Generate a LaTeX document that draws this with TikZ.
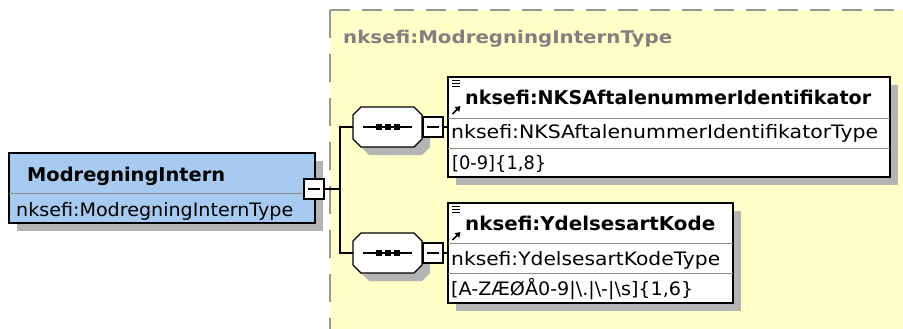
\documentclass[tikz,border=0pt]{standalone}
\usepackage{fontspec}
\setmainfont{DejaVu Sans}
\usepackage{graphicx}
\usetikzlibrary{arrows.meta,shadows}
\definecolor{ylw}{RGB}{255,255,200}
\definecolor{blu}{RGB}{166,202,240}
\definecolor{shd}{RGB}{180,180,180}
\definecolor{dgray}{RGB}{150,150,150}
\definecolor{tgray}{RGB}{128,128,128}
\definecolor{divc}{RGB}{140,140,140}
\newcommand{\fitw}[2]{\resizebox{#1}{\height}{#2}}
\newcommand{\octpath}[1]{([xshift=8pt]#1.north west) -- ([xshift=-8pt]#1.north east) -- ([yshift=-8pt]#1.north east) -- ([yshift=8pt]#1.south east) -- ([xshift=-8pt]#1.south east) -- ([xshift=8pt]#1.south west) -- ([yshift=8pt]#1.south west) -- ([yshift=-8pt]#1.north west) -- cycle}
\begin{document}
\begin{tikzpicture}[x=1pt,y=-1pt,
  box/.style={draw=black, line width=1.5pt, inner sep=0pt, outer sep=0pt, anchor=north west,
    drop shadow={shadow xshift=8pt, shadow yshift=-8pt, fill=shd, opacity=1}},
  divider/.style={draw=divc, line width=1pt},
  minusbox/.style={draw=black, fill=white, line width=1.3pt, minimum size=20pt, inner sep=0pt, outer sep=0pt,
    path picture={\draw[line width=1.3pt] ([xshift=-6pt]path picture bounding box.center) -- ([xshift=6pt]path picture bounding box.center);}},
  seqhold/.style={minimum width=69pt, minimum height=40pt, inner sep=0pt, outer sep=0pt},
  octo/.style={draw=black, fill=white, line width=1.3pt},
  conn/.style={draw=black, line width=1.3pt},
  t/.style={inner sep=0pt, anchor=base west, font=\fontsize{18.5}{20}\selectfont},
  tb/.style={inner sep=0pt, anchor=base west, font=\fontsize{19}{21}\selectfont\bfseries},
  icon/.style={line width=1.2pt}
]
\useasboundingbox (0,0) rectangle (903,329);
\clip (0,0) rectangle (903,329);
% yellow group area
\fill[ylw] (330,10) rectangle (920,340);
\draw[dgray, line width=2pt, dash pattern=on 20pt off 12pt] (330,10) -- (920,10);
\draw[dgray, line width=2pt, dash pattern=on 28pt off 16pt] (330,10) -- (330,340);
\node[tb, text=tgray, font=\fontsize{17.5}{20}\selectfont\bfseries] (grp) at (343,44) {\fitw{329pt}{nksefi:ModregningInternType}};

% main element
\node[box, fill=blu, minimum width=306pt, minimum height=70pt] (main) at (9,153) {};
\draw[divider] (main.west |- 0,193) -- (main.east |- 0,193);
\node[tb] (mt) at (27,181) {\fitw{198pt}{ModregningIntern}};
\node[t] (mty) at (16,216) {\fitw{277pt}{nksefi:ModregningInternType}};
\node[minusbox] (mm) at (314,189) {};

% sequence compositors
\node[seqhold] (s1) at (387.5,127) {};
\node[seqhold] (s2) at (387.5,253) {};
\foreach \s in {s1,s2}{
  \begin{scope}[transform canvas={shift={(8pt,-8pt)}}]
    \fill[shd] \octpath{\s};
  \end{scope}
  \path[octo] \octpath{\s};
  \draw[line width=1.3pt] ([xshift=-24.5pt]\s.center) -- ([xshift=24.5pt]\s.center);
  \foreach \dx in {-9,0,9}{
    \fill ([xshift=\dx pt]\s.center) +(-3,-3) rectangle +(3,3);
  }
}
\node[minusbox] (m1) at (433,127) {};
\node[minusbox] (m2) at (433,253) {};

% connectors
\coordinate (j1) at (340,127);
\coordinate (j2) at (340,253);
\draw[conn] (mm.east) -- (mm.east -| j1);
\draw[conn] (s1.west) -- (j1) -- (j2) -- (s2.west);

% element 1
\node[box, fill=white, minimum width=442pt, minimum height=100pt] (e1) at (448,77) {};
\draw[divider] (e1.west |- 0,118) -- (e1.east |- 0,118);
\draw[divider] (e1.west |- 0,148) -- (e1.east |- 0,148);
\draw[icon] (452,80.5) -- (460,80.5) (452,83.5) -- (460,83.5) (452,86.5) -- (460,86.5);
\draw[line width=1.6pt, -{Triangle[length=5pt,width=6pt]}] (452.5,114) -- (460.5,106);
\node[tb] (e1t) at (465,104) {\fitw{406pt}{nksefi:NKSAftalenummerIdentifikator}};
\node[t] (e1y) at (451,139) {\fitw{427pt}{nksefi:NKSAftalenummerIdentifikatorType}};
\node[t] (e1p) at (452,169) {\fitw{94pt}{[0-9]\{1,8\}}};

% element 2
\node[box, fill=white, minimum width=285pt, minimum height=100pt] (e2) at (448,203) {};
\draw[divider] (e2.west |- 0,243) -- (e2.east |- 0,243);
\draw[divider] (e2.west |- 0,273) -- (e2.east |- 0,273);
\draw[icon] (452,206.5) -- (460,206.5) (452,209.5) -- (460,209.5) (452,212.5) -- (460,212.5);
\draw[line width=1.6pt, -{Triangle[length=5pt,width=6pt]}] (452.5,240) -- (460.5,232);
\node[tb] (e2t) at (465,230) {\fitw{250pt}{nksefi:YdelsesartKode}};
\node[t] (e2y) at (451,265) {\fitw{269pt}{nksefi:YdelsesartKodeType}};
\node[t] (e2p) at (451,295) {\fitw{242pt}{[A-ZÆØÅ0-9|\textbackslash.|\textbackslash-|\textbackslash s]\{1,6\}}};

% connectors to element boxes
\draw[conn] (m1.east) -- (e1.west);
\draw[conn] (m2.east) -- (e2.west);
\end{tikzpicture}
\end{document}
